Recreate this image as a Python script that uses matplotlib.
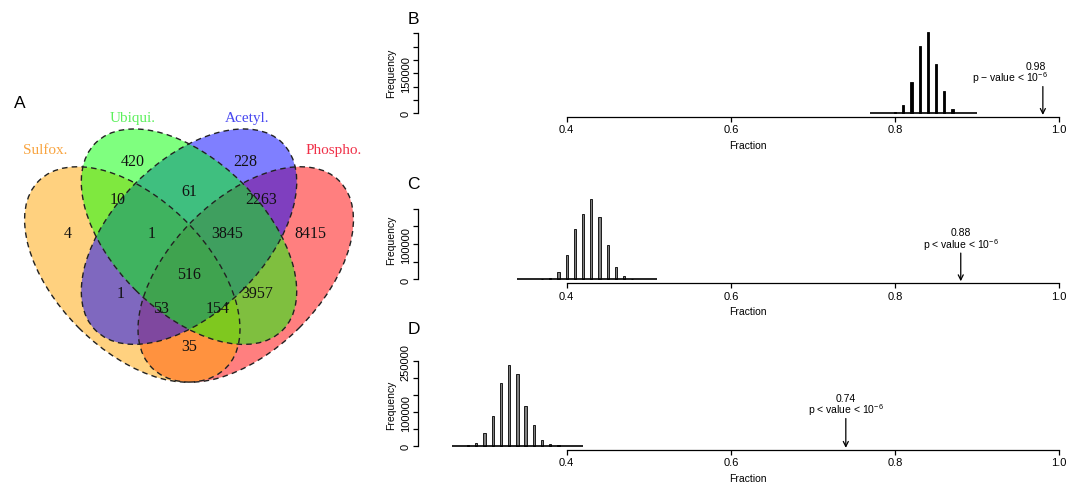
import numpy as np
import matplotlib
matplotlib.use("Agg")
import matplotlib.pyplot as plt
import matplotlib.transforms as mtransforms
from matplotlib.patches import Ellipse

plt.rcParams["font.family"] = ["Liberation Sans", "DejaVu Sans"]
plt.rcParams["mathtext.default"] = "regular"

# ---- panel A: four-way Venn ----
set_names = ["Phospho.", "Sulfox.", "Acetyl.", "Ubiqui."]
set_fill = ["#FF0000", "#FFA500", "#0000FF", "#00FF00"]
set_text = ["#F03048", "#F8A440", "#4848F0", "#5CF05C"]
region_counts = [420, 228, 10, 61, 2263, 4, 1, 3845, 8415, 516, 1, 3957, 53, 154, 35]

# ---- panels B-D: permutation histograms ----
bins_b = [0.80, 0.81, 0.82, 0.83, 0.84, 0.85, 0.86, 0.87]
freq_b = [5000, 31000, 119000, 254000, 306000, 185000, 82500, 16000]
bins_c = [0.37, 0.38, 0.39, 0.40, 0.41, 0.42, 0.43, 0.44, 0.45, 0.46, 0.47, 0.48]
freq_c = [1900, 3800, 21700, 67800, 144000, 185500, 228000, 177000, 97000, 33900, 10400, 1900]
bins_d = [0.28, 0.29, 0.30, 0.31, 0.32, 0.33, 0.34, 0.35, 0.36, 0.37, 0.38, 0.39]
freq_d = [3000, 9900, 39400, 89700, 185400, 240600, 212000, 118300, 62100, 18700, 4900, 2000]
hist_range = [(0.77, 0.90), (0.34, 0.51), (0.26, 0.42)]
observed = [0.98, 0.88, 0.74]
pval_text = [r"p $-$ value < 10$^{-6}$", r"p < value < 10$^{-6}$", r"p < value < 10$^{-6}$"]
ytick_max = [300000, 200000, 250000]
ytick_shown = [["0", "150000"], ["0", "100000"], ["0", "100000", "250000"]]
xticks = [0.4, 0.6, 0.8, 1.0]

W, H = 1078, 485
fig = plt.figure(figsize=(W / 100, H / 100), dpi=100)


def px_axes(left, top, right, bottom):
    return fig.add_axes([left / W, 1 - bottom / H, (right - left) / W, (bottom - top) / H])


# Venn layout (VennDiagram-style unit square)
ell_xy = [(0.65, 0.47), (0.35, 0.47), (0.5, 0.57), (0.5, 0.57)]
ell_ang = [45, -45, 45, -45]
name_xy = [(0.882, 0.80), (0.119, 0.80), (0.653, 0.886), (0.351, 0.886)]
region_xy = [(0.35, 0.77), (0.65, 0.77), (0.31, 0.67), (0.5, 0.69), (0.69, 0.67),
             (0.18, 0.58), (0.4, 0.58), (0.6, 0.58), (0.82, 0.58), (0.5, 0.47),
             (0.32, 0.42), (0.68, 0.42), (0.425, 0.38), (0.575, 0.38), (0.5, 0.28)]

axv = px_axes(0, 60, 378, 438)
axv.set_xlim(0, 1)
axv.set_ylim(0.04, 1.04)
axv.set_aspect("equal")
axv.axis("off")
for xy, ang, col in zip(ell_xy, ell_ang, set_fill):
    axv.add_patch(Ellipse(xy, 0.7, 0.4, angle=ang, facecolor=col, alpha=0.5, lw=0))
for xy, ang in zip(ell_xy, ell_ang):
    axv.add_patch(Ellipse(xy, 0.7, 0.4, angle=ang, fill=False, edgecolor="#222222",
                          lw=1.0, linestyle=(0, (4, 3))))
for (x, y), n in zip(region_xy, region_counts):
    axv.text(x, y, str(n), ha="center", va="center", fontsize=11.5,
             family="Liberation Serif", color="#111111")
for (x, y), name, col in zip(name_xy, set_names, set_text):
    axv.text(x, y, name, ha="center", va="center", fontsize=11,
             family="Liberation Serif", color=col)
fig.text(20 / W, 1 - 104 / H, "A", fontsize=12.5, ha="center", va="center")

# Histogram panels
frames = [(29, 117.7, (-12750, 320000)), (196, 284, (-9900, 238700)), (359, 450.7, (-10950, 260000))]
letters = ["B", "C", "D"]
letter_y = [19, 185, 329]
bar_face = ["black", "#808080", "#808080"]
for i, (bins, freq) in enumerate([(bins_b, freq_b), (bins_c, freq_c), (bins_d, freq_d)]):
    top, bottom, ylim = frames[i]
    ax = px_axes(418.3, top, W, bottom)
    ax.set_xlim(0.2193, 1.0228)
    ax.set_ylim(*ylim)
    lo, hi = hist_range[i]
    ax.hlines(0, lo, hi, color="black", lw=1.2)
    ax.bar(bins, freq, width=0.0028, color=bar_face[i], edgecolor="black", lw=0.6)

    for s in ["top", "right"]:
        ax.spines[s].set_visible(False)
    ax.spines["left"].set_bounds(0, ytick_max[i])
    ax.spines["bottom"].set_bounds(xticks[0], xticks[-1])
    ax.spines["left"].set_linewidth(0.9)
    ax.spines["bottom"].set_linewidth(0.9)

    yt = np.arange(0, ytick_max[i] + 1, 50000)
    ax.set_yticks(yt)
    ax.set_yticklabels([str(v) if str(v) in ytick_shown[i] else "" for v in yt],
                       rotation=90, va="center")
    ax.set_xticks(xticks)
    ax.set_xticklabels([f"{v:.1f}" for v in xticks])
    ax.tick_params(length=3.5, width=0.9, labelsize=8, pad=2)
    ax.set_ylabel("Frequency", fontsize=7.5, labelpad=3)
    ax.set_xlabel("Fraction", fontsize=7.5, labelpad=4)
    ax.patch.set_visible(False)

    trans = mtransforms.blended_transform_factory(ax.transData, ax.transAxes)
    obs = observed[i]
    ax.annotate("", xy=(obs, 0.02), xycoords=trans, xytext=(obs, 0.34), textcoords=trans,
                arrowprops=dict(arrowstyle="->", color="black", lw=0.9,
                                shrinkA=0, shrinkB=0, mutation_scale=9))
    ha = "right" if i == 0 else "center"
    tx = obs + 0.006 if i == 0 else obs
    ax.annotate(pval_text[i], xy=(tx, 0.34), xycoords=trans, xytext=(0, 1),
                textcoords="offset points", ha=ha, va="bottom", fontsize=7.5)
    ax.annotate(f"{obs:.2f}", xy=(obs - 0.008 if i == 0 else obs, 0.34), xycoords=trans,
                xytext=(0, 11.5), textcoords="offset points", ha="center",
                va="bottom", fontsize=7.5)
    fig.text(413.5 / W, 1 - letter_y[i] / H, letters[i], fontsize=12.5, ha="center", va="center")

fig.savefig("out.png", dpi=100)
